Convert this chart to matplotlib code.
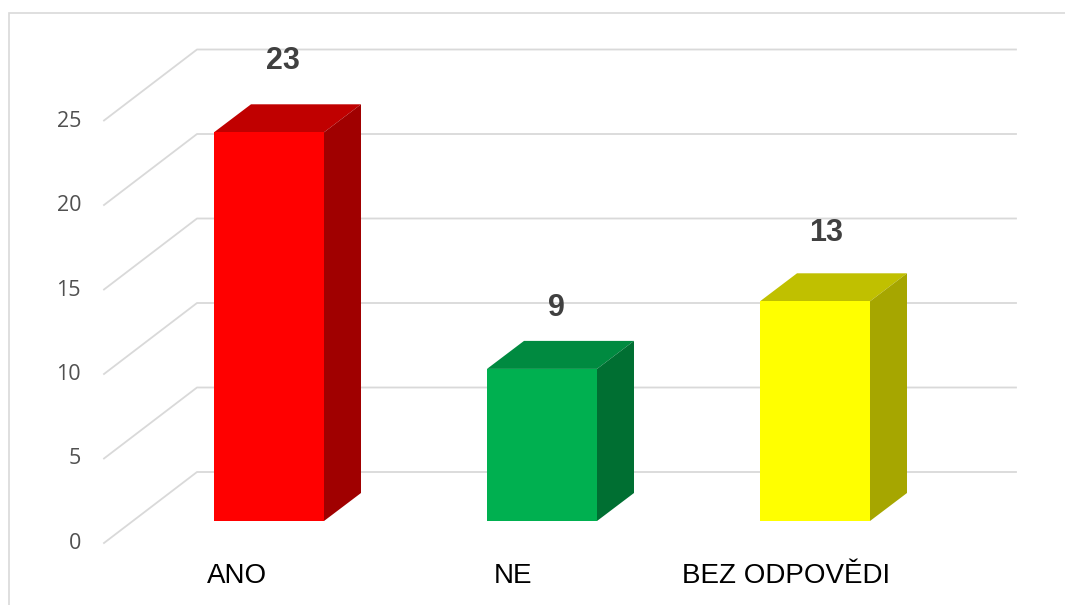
import matplotlib
matplotlib.use('Agg')
import matplotlib.pyplot as plt
from matplotlib.patches import Polygon

categories = ['ANO', 'NE', 'BEZ ODPOVĚDI']
values = [23, 9, 13]
yticks = [0, 5, 10, 15, 20, 25]
front_colors = ['#ff0000', '#00b050', '#ffff00']
top_colors = ['#c00000', '#008a40', '#c0c000']
side_colors = ['#a00000', '#006f32', '#a6a600']

# pixel scale of the picture
px_x = 273.0
px_y = 16.9
bar_w = 110 / px_x
depth_x = 37 / px_x
depth_y = 28 / px_y
grid_color = '#d9d9d9'

fig = plt.figure(figsize=(10.65, 6.05), dpi=100)
ax = fig.add_axes([0, 0, 1, 1])
ax.set_xlim(-269 / px_x, (1065 - 269) / px_x)
ax.set_ylim(-84 / px_y, 521 / px_y)
ax.axis('off')

# outer chart frame
ax.plot([-260 / px_x, -260 / px_x, 800 / px_x], [-90 / px_y, 508 / px_y, 508 / px_y],
        color=grid_color, lw=1.2, solid_joinstyle='miter', zorder=1)

# gridlines: side wall + back wall
for v in yticks:
    xs = [-165 / px_x, -72 / px_x, 747 / px_x]
    ys = [v - 22 / px_y, v + 49 / px_y, v + 49 / px_y]
    ax.plot(xs, ys, color=grid_color, lw=1.3, zorder=2)
    ax.text(-188 / px_x, v - 22.5 / px_y, str(v), ha='right', va='center',
            family='Open Sans', fontsize=15.5, color='#505050')

# bars
xpos = list(range(len(values)))
ax.bar(xpos, values, width=bar_w, color=front_colors, linewidth=0, zorder=5)
for i, v in enumerate(values):
    l = i - bar_w / 2
    r = i + bar_w / 2
    ax.add_patch(Polygon([(l, v), (r, v), (r + depth_x, v + depth_y), (l + depth_x, v + depth_y)],
                         closed=True, fc=top_colors[i], ec='none', zorder=4))
    ax.add_patch(Polygon([(r, 0), (r + depth_x, depth_y), (r + depth_x, v + depth_y), (r, v)],
                         closed=True, fc=side_colors[i], ec='none', zorder=4))

# value labels and category labels
label_dx = [14, 14, 11]
label_dy = [43, 33, 40]
cat_dx = [-32, -29, -29]
for i, v in enumerate(values):
    ax.text(i + label_dx[i] / px_x, v + depth_y + label_dy[i] / px_y, str(v), ha='center', va='center',
            family='Liberation Sans', fontweight='bold', fontsize=22, color='#404040', zorder=6)
    ax.text(i + cat_dx[i] / px_x, -55 / px_y, categories[i], ha='center', va='center',
            family='Liberation Sans', fontsize=20, color='black')

fig.savefig('out.png', dpi=100)
